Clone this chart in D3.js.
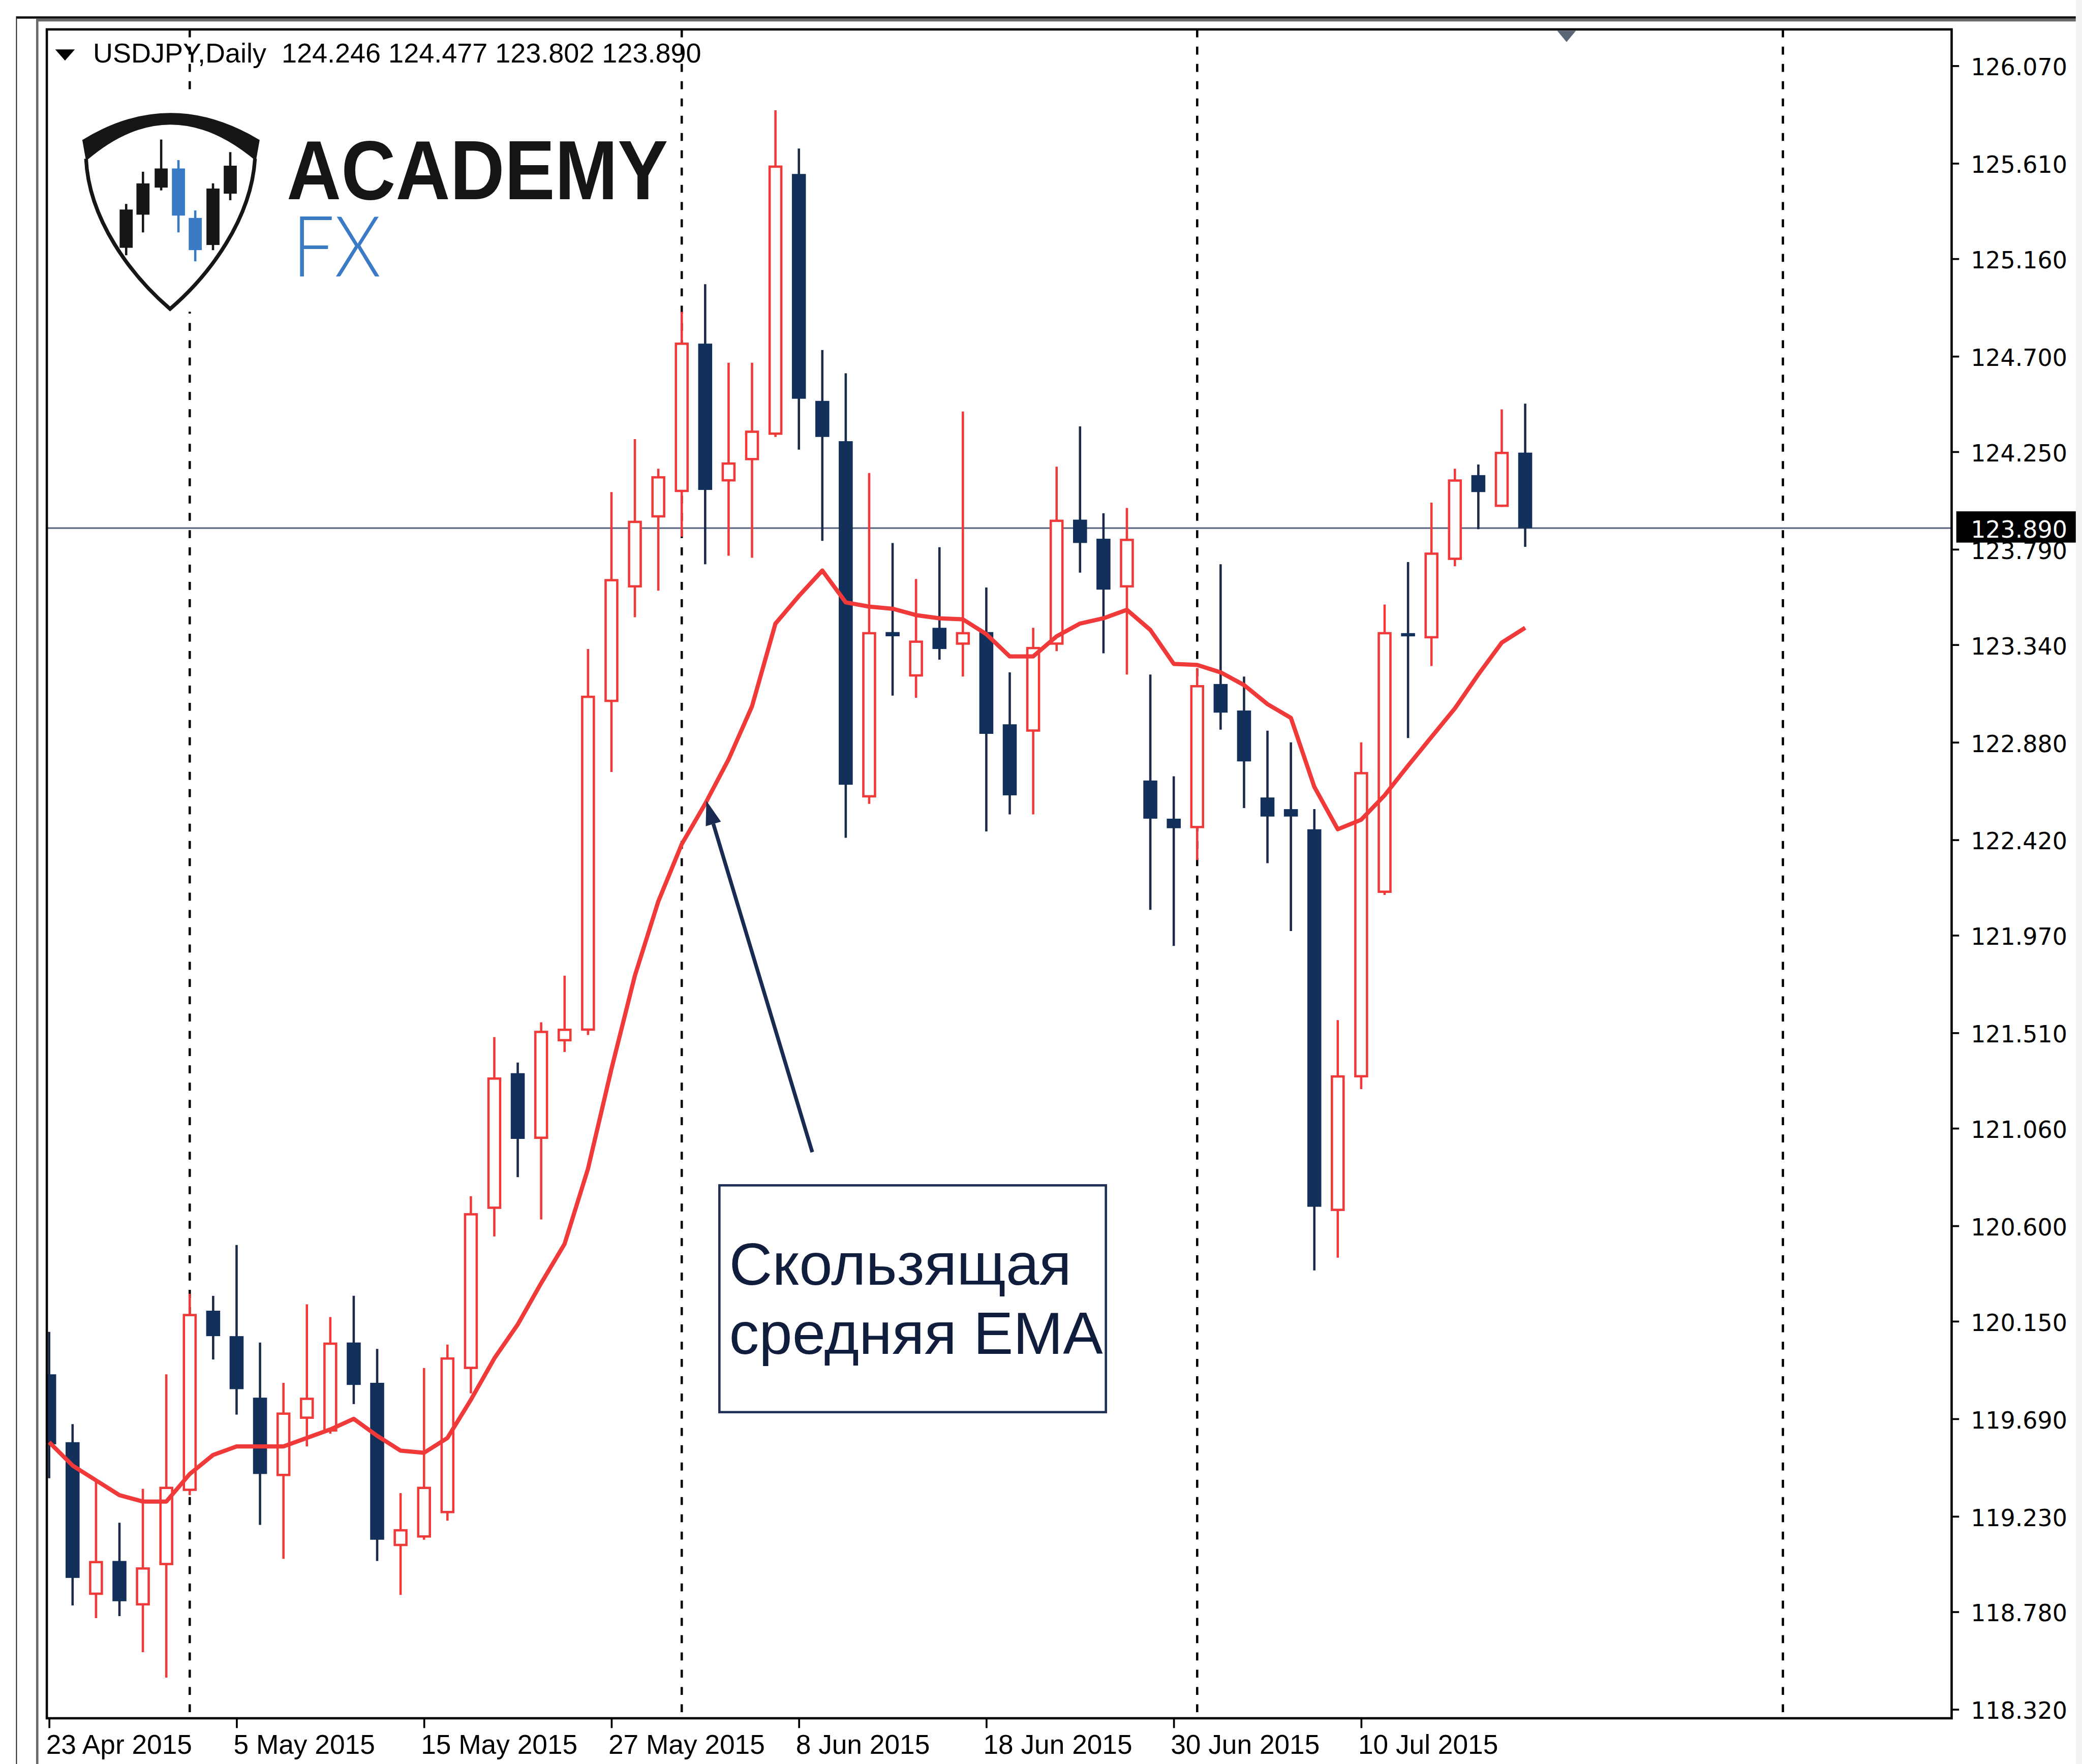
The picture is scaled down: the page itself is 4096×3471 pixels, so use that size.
<!DOCTYPE html>
<html>
<head>
<meta charset="utf-8">
<script src="https://cdn.jsdelivr.net/npm/d3@7/dist/d3.min.js"></script>
<style>
  html, body { margin: 0; padding: 0; background: #ffffff; overflow: hidden; }
  svg { display: block; }
</style>
</head>
<body>
<svg id="chart"></svg>
<script>
// USDJPY daily bars, 23 Apr 2015 .. 21 Jul 2015
const barOpen = [
  119.90, 119.58, 118.86, 119.02, 118.81, 119.00, 119.35, 120.20, 120.08, 119.79,
  119.42, 119.69, 119.63, 120.05, 119.86, 119.09, 119.13, 119.245, 119.925, 120.68,
  121.32, 121.01, 121.47, 121.52, 123.07, 123.61, 123.94, 124.06, 124.76, 124.11,
  124.21, 124.33, 125.56, 124.49, 124.30, 122.62, 123.40, 123.19, 123.42, 123.34,
  123.40, 122.965, 122.93, 123.34, 123.93, 123.84, 123.61, 122.70, 122.52, 122.475,
  123.155, 123.03, 122.62, 122.565, 122.47, 120.67, 121.30, 122.17, 123.395, 123.37,
  123.74, 124.14, 123.99, 124.246
];
const barHigh = [
  120.10, 119.665, 119.40, 119.20, 119.36, 119.90, 120.28, 120.27, 120.51, 120.05,
  119.86, 120.23, 120.17, 120.27, 120.02, 119.34, 119.93, 120.04, 120.74, 121.49,
  121.37, 121.56, 121.78, 123.32, 124.06, 124.31, 124.17, 124.91, 125.04, 124.67,
  124.67, 125.86, 125.68, 124.73, 124.62, 124.15, 123.82, 123.65, 123.80, 124.44,
  123.61, 123.21, 123.42, 124.18, 124.37, 123.96, 123.985, 123.20, 122.72, 123.23,
  123.72, 123.19, 122.935, 122.88, 122.565, 121.57, 122.88, 123.53, 123.73, 124.01,
  124.17, 124.19, 124.45, 124.477
];
const barLow = [
  119.41, 118.81, 118.75, 118.76, 118.59, 118.47, 119.33, 119.97, 119.71, 119.19,
  119.03, 119.56, 119.62, 119.76, 119.02, 118.86, 119.12, 119.21, 119.81, 120.55,
  120.83, 120.63, 121.42, 121.50, 122.74, 123.47, 123.595, 123.85, 123.72, 123.76,
  123.75, 124.32, 124.26, 123.83, 122.43, 122.59, 123.10, 123.09, 123.27, 123.19,
  122.46, 122.54, 122.54, 123.31, 123.68, 123.30, 123.20, 122.09, 121.92, 122.325,
  122.94, 122.57, 122.31, 121.99, 120.39, 120.45, 121.245, 122.16, 122.90, 123.24,
  123.71, 123.885, 123.99, 123.802
];
const barClose = [
  119.57, 118.94, 119.02, 118.83, 118.99, 119.37, 120.185, 120.08, 119.83, 119.43,
  119.72, 119.79, 120.05, 119.85, 119.12, 119.17, 119.37, 119.98, 120.66, 121.30,
  121.01, 121.52, 121.53, 123.10, 123.65, 123.925, 124.135, 124.765, 124.07, 124.20,
  124.35, 125.60, 124.50, 124.32, 122.68, 123.40, 123.38, 123.36, 123.32, 123.40,
  122.92, 122.63, 123.33, 123.93, 123.82, 123.60, 123.84, 122.52, 122.475, 123.15,
  123.02, 122.79, 122.53, 122.53, 120.69, 121.31, 122.74, 123.40, 123.385, 123.775,
  124.12, 124.06, 124.25, 123.890
];
const emaValues = [
  119.58, 119.47, 119.40, 119.33, 119.30, 119.30, 119.43, 119.52, 119.56, 119.56,
  119.56, 119.60, 119.64, 119.69, 119.61, 119.54, 119.53, 119.60, 119.78, 119.975,
  120.135, 120.33, 120.515, 120.87, 121.34, 121.78, 122.13, 122.40, 122.59, 122.80,
  123.05, 123.44, 123.57, 123.69, 123.54, 123.52, 123.51, 123.48, 123.465, 123.46,
  123.39, 123.285, 123.285, 123.38, 123.44, 123.465, 123.505, 123.41, 123.25, 123.245,
  123.21, 123.15, 123.06, 122.995, 122.67, 122.47, 122.515, 122.63, 122.77, 122.905,
  123.04, 123.20, 123.35, 123.42
];
const priceTicks = [
  126.070, 125.610, 125.160, 124.700, 124.250, 123.790, 123.340, 122.880, 122.420,
  121.970, 121.510, 121.060, 120.600, 120.150, 119.690, 119.230, 118.780, 118.320
];
const dateLabels = ["23 Apr 2015", "5 May 2015", "15 May 2015", "27 May 2015",
                    "8 Jun 2015", "18 Jun 2015", "30 Jun 2015", "10 Jul 2015"];
const dateLabelBars = [0, 8, 16, 24, 32, 40, 48, 56];
const monthStartBars = [6, 27, 49, 74];
const lastPrice = 123.890;
const headerText = "USDJPY,Daily  124.246 124.477 123.802 123.890";
const noteLines = ["Скользящая", "средняя EMA"];

// logo candles: [x, wickTop, bodyTop, bodyBottom, wickBottom, blue?]
const logoCandles = [
  [270, 437, 449, 531, 547, false],
  [306, 368, 393, 460, 498, false],
  [345, 299, 361, 402, 408, false],
  [382, 343, 361, 462, 498, true],
  [418, 451, 467, 536, 560, true],
  [456, 393, 404, 525, 536, false],
  [493, 326, 355, 415, 429, false]
];

// everything is laid out in the reference's 4460x3780 space and scaled down
const REF_W = 4460, REF_H = 3780;
const OUT_W = 4096, OUT_H = 3471;
const RED = "#f03a3a", NAVY = "#13305a", WICK = "#1b2a48";

const plot = { left: 100, top: 63, right: 4181, bottom: 3682 };

const x = d3.scaleLinear().domain([0, 8]).range([105, 506.57]);
const y = d3.scaleLinear().domain([118.32, 126.07]).range([3663, 141]);

const svg = d3.select("#chart")
  .attr("width", OUT_W)
  .attr("height", OUT_H)
  .attr("viewBox", `0 0 ${REF_W} ${REF_H}`)
  .style("font-family", "'Liberation Sans', Arial, sans-serif");

svg.append("rect").attr("width", REF_W).attr("height", REF_H).attr("fill", "#ffffff");

// window chrome round the chart
svg.append("rect").attr("x", 4447).attr("y", 0).attr("width", 13).attr("height", REF_H).attr("fill", "#f3f3f3");
svg.append("rect").attr("x", 35).attr("y", 35).attr("width", 4412).attr("height", 5).attr("fill", "#111");
svg.append("rect").attr("x", 77).attr("y", 40).attr("width", 4370).attr("height", 6).attr("fill", "#6a6a6a");
svg.append("rect").attr("x", 34).attr("y", 35).attr("width", 2).attr("height", REF_H - 35).attr("fill", "#111");
svg.append("rect").attr("x", 77).attr("y", 40).attr("width", 5).attr("height", REF_H - 40).attr("fill", "#6a6a6a");

svg.append("defs").append("clipPath").attr("id", "plotClip")
  .append("rect")
  .attr("x", plot.left).attr("y", plot.top)
  .attr("width", plot.right - plot.left).attr("height", plot.bottom - plot.top);

const g = svg.append("g").attr("clip-path", "url(#plotClip)");

// month separators
g.selectAll(".sep")
  .data(monthStartBars)
  .enter().append("line")
  .attr("class", "sep")
  .attr("x1", d => x(d)).attr("x2", d => x(d))
  .attr("y1", plot.top).attr("y2", plot.bottom)
  .attr("stroke", "#000")
  .attr("stroke-width", 5)
  .attr("stroke-dasharray", "17 20");

// current price level
g.append("line")
  .attr("x1", plot.left).attr("x2", plot.right)
  .attr("y1", y(lastPrice)).attr("y2", y(lastPrice))
  .attr("stroke", "#5d6b86")
  .attr("stroke-width", 3.5);

// candles
const bars = d3.range(barOpen.length);
const bodyW = 30;

const candle = g.selectAll(".candle")
  .data(bars)
  .enter().append("g")
  .attr("class", "candle");

candle.append("line")
  .attr("x1", i => x(i)).attr("x2", i => x(i))
  .attr("y1", i => y(barHigh[i])).attr("y2", i => y(barLow[i]))
  .attr("stroke", i => barClose[i] > barOpen[i] ? RED : WICK)
  .attr("stroke-width", 5);

candle.append("rect")
  .attr("x", i => barClose[i] > barOpen[i] ? x(i) - bodyW / 2 + 2.5 : x(i) - bodyW / 2)
  .attr("width", i => barClose[i] > barOpen[i] ? bodyW - 5 : bodyW)
  .attr("y", i => {
    const top = y(Math.max(barOpen[i], barClose[i]));
    return barClose[i] > barOpen[i] ? top + 2.5 : top;
  })
  .attr("height", i => {
    const h = Math.abs(y(barOpen[i]) - y(barClose[i]));
    return barClose[i] > barOpen[i] ? Math.max(h - 5, 4) : Math.max(h, 7);
  })
  .attr("fill", i => barClose[i] > barOpen[i] ? "#ffffff" : NAVY)
  .attr("stroke", i => barClose[i] > barOpen[i] ? RED : "none")
  .attr("stroke-width", 5);

// moving average
const emaLine = d3.line()
  .x((d, i) => x(i))
  .y(d => y(d));

g.append("path")
  .datum(emaValues)
  .attr("d", emaLine)
  .attr("fill", "none")
  .attr("stroke", RED)
  .attr("stroke-width", 9)
  .attr("stroke-linejoin", "round");

// logo with its white backing
const logo = svg.append("g");
logo.append("rect").attr("x", 150).attr("y", 200).attr("width", 1290).attr("height", 468).attr("fill", "#ffffff");
logo.append("path")
  .attr("d", "M176 300 Q364 184 556 300 L548 345 Q364 189 184 345 Z")
  .attr("fill", "#161616");
logo.append("path")
  .attr("d", "M184 340 C190 470 280 590 364 662 C448 590 538 470 546 340")
  .attr("fill", "none")
  .attr("stroke", "#161616")
  .attr("stroke-width", 8);
logoCandles.forEach(c => {
  const col = c[5] ? "#3a7ac4" : "#161616";
  logo.append("line").attr("x1", c[0]).attr("x2", c[0]).attr("y1", c[1]).attr("y2", c[4])
    .attr("stroke", col).attr("stroke-width", 5);
  logo.append("rect").attr("x", c[0] - 14).attr("width", 28).attr("y", c[2]).attr("height", c[3] - c[2])
    .attr("fill", col);
});
logo.append("text")
  .attr("x", 614).attr("y", 427)
  .attr("font-size", 180).attr("font-weight", "bold")
  .attr("fill", "#151515")
  .attr("textLength", 817).attr("lengthAdjust", "spacingAndGlyphs")
  .text("ACADEMY");
logo.append("text")
  .attr("x", 626).attr("y", 592)
  .attr("font-family", "Lato, 'Liberation Sans', sans-serif")
  .attr("font-size", 180).attr("font-weight", 300)
  .attr("fill", "#3b7bc6")
  .attr("textLength", 190).attr("lengthAdjust", "spacingAndGlyphs")
  .text("FX");

// symbol header
svg.append("path").attr("d", "M118 106 L160 106 L139 130 Z").attr("fill", "#000");
svg.append("text")
  .attr("x", 199).attr("y", 134)
  .attr("font-size", 58)
  .attr("fill", "#000")
  .attr("textLength", 1303).attr("lengthAdjust", "spacingAndGlyphs")
  .attr("xml:space", "preserve")
  .text(headerText);

// shift marker at the top
svg.append("path").attr("d", "M3336 66 L3376 66 L3356 90 Z").attr("fill", "#5a6676");

// plot frame
svg.append("rect")
  .attr("x", plot.left).attr("y", plot.top)
  .attr("width", plot.right - plot.left).attr("height", plot.bottom - plot.top)
  .attr("fill", "none").attr("stroke", "#000").attr("stroke-width", 5);

// price axis
const yAxis = svg.append("g")
  .attr("transform", `translate(${plot.right},0)`)
  .call(d3.axisRight(y).tickValues(priceTicks).tickSize(16).tickPadding(25).tickFormat(d3.format(".3f")));
yAxis.select(".domain").remove();
yAxis.selectAll(".tick line").attr("stroke", "#000").attr("stroke-width", 4);
yAxis.selectAll(".tick text")
  .attr("font-family", "'DejaVu Sans', Verdana, sans-serif")
  .attr("font-size", 50)
  .attr("fill", "#000")
  .attr("dy", "0.4em");

// last price tag
svg.append("rect").attr("x", 4191).attr("y", y(lastPrice) - 36).attr("width", 256).attr("height", 67).attr("fill", "#000");
svg.append("text")
  .attr("x", 4222).attr("y", y(lastPrice))
  .attr("dy", "0.4em")
  .attr("font-family", "'DejaVu Sans', Verdana, sans-serif")
  .attr("font-size", 50)
  .attr("fill", "#fff")
  .text(d3.format(".3f")(lastPrice));

// time axis
const xAxis = svg.append("g")
  .attr("transform", `translate(0,${plot.bottom + 2})`)
  .call(d3.axisBottom(x).tickValues(dateLabelBars).tickSize(19).tickFormat((d, i) => dateLabels[i]));
xAxis.select(".domain").remove();
xAxis.selectAll(".tick line").attr("stroke", "#000").attr("stroke-width", 4);
xAxis.selectAll(".tick text")
  .attr("font-family", "'Liberation Sans', Arial, sans-serif")
  .attr("font-size", 58)
  .attr("fill", "#000")
  .attr("text-anchor", "start")
  .attr("x", -7)
  .attr("y", 74)
  .attr("dy", 0);

// annotation
const tip = [x(28.05), y(122.605)];
const tail = [1740, 2469];
const dx = tip[0] - tail[0], dy = tip[1] - tail[1];
const len = Math.hypot(dx, dy);
const ux = dx / len, uy = dy / len;
const headL = 52, headW = 17;
const base = [tip[0] - ux * headL, tip[1] - uy * headL];
svg.append("line")
  .attr("x1", tail[0]).attr("y1", tail[1])
  .attr("x2", base[0]).attr("y2", base[1])
  .attr("stroke", "#1a2b52").attr("stroke-width", 8);
svg.append("path")
  .attr("d", `M${tip[0]},${tip[1]} L${base[0] - uy * headW},${base[1] + ux * headW} L${base[0] + uy * headW},${base[1] - ux * headW} Z`)
  .attr("fill", "#1a2b52");

svg.append("rect")
  .attr("x", 1541).attr("y", 2540).attr("width", 828).attr("height", 486)
  .attr("fill", "#ffffff").attr("stroke", "#1f2f55").attr("stroke-width", 5);
svg.append("text")
  .attr("x", 1562).attr("y", 2753)
  .attr("font-family", "'Liberation Sans', Arial, sans-serif")
  .attr("font-size", 128).attr("fill", "#101d3d")
  .text(noteLines[0]);
svg.append("text")
  .attr("x", 1562).attr("y", 2901)
  .attr("font-family", "'Liberation Sans', Arial, sans-serif")
  .attr("font-size", 128).attr("fill", "#101d3d")
  .text(noteLines[1]);
</script>
</body>
</html>
